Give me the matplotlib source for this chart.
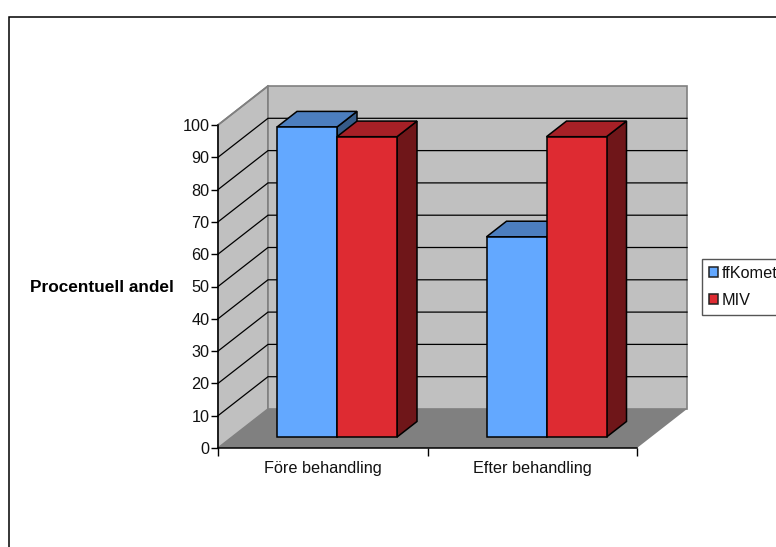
import matplotlib
matplotlib.use('Agg')
import matplotlib.pyplot as plt
from matplotlib.patches import Patch, Polygon, Rectangle

plt.rcParams['font.family'] = ['Liberation Sans', 'DejaVu Sans']

categories = ['Före behandling', 'Efter behandling']
series_names = ['ffKomet', 'MIV']
ffkomet = [96, 62]
miv = [93, 93]
y_ticks = list(range(0, 101, 10))

colors = {'ffKomet': ('#63A8FF', '#4C7EBF', '#365B88'),
          'MIV': ('#DE2B32', '#A62026', '#6F1619')}

W, H = 776, 547
FS = 11.7
fig = plt.figure(figsize=(W / 100, H / 100), dpi=100)
ax = fig.add_axes([218 / W, 1 - 448 / H, 419 / W, 323 / H])
ax.set_xlim(0, len(categories))
ax.set_ylim(0, 100)
ax.patch.set_visible(False)

# oblique projection: depth 1 is the back wall
depth_x = 50 / 209.5
depth_y = 39 / 3.23


def pt(x, y, d=0.0):
    return (x + d * depth_x, y + d * depth_y)


def poly(points, fc, ec='none', lw=0.0, z=1):
    ax.add_patch(Polygon(points, closed=True, facecolor=fc, edgecolor=ec,
                         linewidth=lw, joinstyle='miter', clip_on=False, zorder=z))


n = len(categories)
wall_edge = '#808080'
# walls and floor
poly([pt(0, 0), pt(0, 0, 1), pt(0, 100, 1), pt(0, 100)], '#C0C0C0', wall_edge, 1.2, 1)
poly([pt(0, 0, 1), pt(n, 0, 1), pt(n, 100, 1), pt(0, 100, 1)], '#C0C0C0', wall_edge, 1.2, 1)
poly([pt(0, 0), pt(n, 0), pt(n, 0, 1), pt(0, 0, 1)], '#808080', z=1.5)

# gridlines across the side wall and the back wall
for v in y_ticks[1:-1]:
    xs, ys = zip(pt(0, v), pt(0, v, 1), pt(n, v, 1))
    ax.plot(xs, ys, color='black', lw=0.9, clip_on=False, zorder=2)
xs, ys = zip(pt(0, 100), pt(0, 100, 1))
ax.plot(xs, ys, color=wall_edge, lw=1.2, clip_on=False, zorder=2)

# 3D bars, drawn back to front inside each group
bar_w = 60 / 209.5
bar_start = 45 / 209.5
d0, d1 = 0.28, 0.68
z = 3
for i in range(n):
    for j, (name, vals) in enumerate(zip(series_names, [ffkomet, miv])):
        left = i + bar_start + j * bar_w
        right = left + bar_w
        v = vals[i]
        front, top, side = colors[name]
        poly([pt(right, 0, d0), pt(right, 0, d1), pt(right, v, d1), pt(right, v, d0)], side, 'black', 1.1, z)
        poly([pt(left, v, d0), pt(right, v, d0), pt(right, v, d1), pt(left, v, d1)], top, 'black', 1.1, z)
        poly([pt(left, 0, d0), pt(right, 0, d0), pt(right, v, d0), pt(left, v, d0)], front, 'black', 1.1, z)
        z += 1

# axes
for s in ['top', 'right']:
    ax.spines[s].set_visible(False)
for s in ['left', 'bottom']:
    ax.spines[s].set_linewidth(1.1)
    ax.spines[s].set_zorder(20)
ax.set_yticks(y_ticks)
ax.set_xticks(range(n + 1))
ax.set_xticklabels([])
ax.set_xticks([i + 0.5 for i in range(n)], minor=True)
ax.set_xticklabels(categories, minor=True)
ax.tick_params(axis='x', which='minor', length=0, pad=9.5, labelsize=FS, labelcolor='#111111')
ax.tick_params(axis='x', which='major', length=6, width=1)
ax.tick_params(axis='y', length=5, width=1, pad=1.0, labelsize=FS, labelcolor='#111111')

fig.text(30 / W, 1 - 287 / H, 'Procentuell andel', fontsize=FS + 0.7, fontweight='bold',
         ha='left', va='center')

# chart frame, runs off the right and bottom of the image
fig.add_artist(Rectangle((8.8 / W, -0.1), 1.1, 1.1 - 16.5 / H, transform=fig.transFigure,
                         fill=False, edgecolor='black', linewidth=1.1))

handles = [Patch(facecolor=colors[name][0], edgecolor='#222222', linewidth=1.1) for name in series_names]
leg = fig.legend(handles, series_names, loc='upper left',
                 bbox_to_anchor=(702 / W, 1 - 259 / H), fontsize=FS,
                 frameon=True, fancybox=False, edgecolor='#555555', framealpha=1,
                 handlelength=0.56, handleheight=0.56, handletextpad=0.25,
                 labelspacing=0.75, borderpad=0.42, borderaxespad=0, labelcolor='#111111')
leg.get_frame().set_linewidth(1.0)

fig.savefig('out.png', dpi=100)
